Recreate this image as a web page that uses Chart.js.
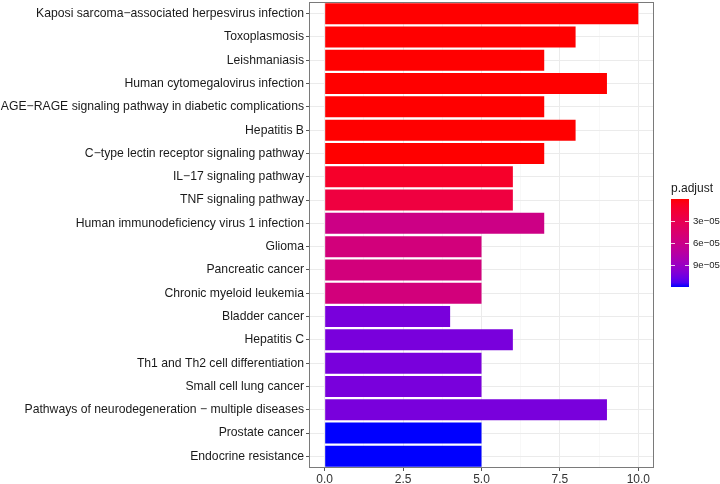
<!DOCTYPE html>
<html>
<head>
<meta charset="utf-8">
<script src="https://cdn.jsdelivr.net/npm/chart.js@4/dist/chart.umd.min.js"></script>
<style>
  html, body { margin: 0; padding: 0; background: #fff; }
  #wrap { width: 720px; height: 484px; }
</style>
</head>
<body>
<div id="wrap"><canvas id="enrichChart" width="720" height="484"></canvas></div>
<script>
// pathways, top to bottom
const pathways = [
  'Kaposi sarcoma\u2212associated herpesvirus infection',
  'Toxoplasmosis',
  'Leishmaniasis',
  'Human cytomegalovirus infection',
  'AGE\u2212RAGE signaling pathway in diabetic complications',
  'Hepatitis B',
  'C\u2212type lectin receptor signaling pathway',
  'IL\u221217 signaling pathway',
  'TNF signaling pathway',
  'Human immunodeficiency virus 1 infection',
  'Glioma',
  'Pancreatic cancer',
  'Chronic myeloid leukemia',
  'Bladder cancer',
  'Hepatitis C',
  'Th1 and Th2 cell differentiation',
  'Small cell lung cancer',
  'Pathways of neurodegeneration \u2212 multiple diseases',
  'Prostate cancer',
  'Endocrine resistance'
];
const geneCounts = [10, 8, 7, 9, 7, 8, 7, 6, 6, 7, 5, 5, 5, 4, 6, 5, 5, 9, 5, 5];
const pAdjust = [
  1e-7, 1e-7, 1e-7, 1e-7, 1e-7, 1e-7, 1e-7,
  1.2e-5, 2.2e-5, 5.8e-5,
  5.3e-5, 5.3e-5, 5.3e-5,
  1.03e-4, 1.03e-4, 1.03e-4, 1.03e-4, 1.03e-4,
  1.2e-4, 1.2e-4
];
const xTicks = [0, 2.5, 5, 7.5, 10];
const xMinorTicks = [1.25, 3.75, 6.25, 8.75];
const legendTicks = [3e-5, 6e-5, 9e-5];
const legendLabels = ['3e\u221205', '6e\u221205', '9e\u221205'];

const pMin = Math.min(...pAdjust);
const pMax = Math.max(...pAdjust);

// red -> blue, interpolated in Lab like ggplot's gradient
function toLab(r, g, b) {
  const lin = c => { c /= 255; return c <= 0.04045 ? c / 12.92 : Math.pow((c + 0.055) / 1.055, 2.4); };
  const R = lin(r), G = lin(g), B = lin(b);
  const X = (0.4124 * R + 0.3576 * G + 0.1805 * B) / 0.95047;
  const Y = 0.2126 * R + 0.7152 * G + 0.0722 * B;
  const Z = (0.0193 * R + 0.1192 * G + 0.9505 * B) / 1.08883;
  const f = t => t > 0.008856 ? Math.cbrt(t) : 7.787 * t + 16 / 116;
  return [116 * f(Y) - 16, 500 * (f(X) - f(Y)), 200 * (f(Y) - f(Z))];
}
function fromLab(L, a, bb) {
  const fy = (L + 16) / 116, fx = fy + a / 500, fz = fy - bb / 200;
  const inv = t => t * t * t > 0.008856 ? t * t * t : (t - 16 / 116) / 7.787;
  const X = inv(fx) * 0.95047, Y = inv(fy), Z = inv(fz) * 1.08883;
  let R = 3.2406 * X - 1.5372 * Y - 0.4986 * Z;
  let G = -0.9689 * X + 1.8758 * Y + 0.0415 * Z;
  let B = 0.0557 * X - 0.2040 * Y + 1.0570 * Z;
  const g = c => {
    c = Math.max(0, Math.min(1, c));
    c = c <= 0.0031308 ? 12.92 * c : 1.055 * Math.pow(c, 1 / 2.4) - 0.055;
    return Math.round(c * 255);
  };
  return `rgb(${g(R)},${g(G)},${g(B)})`;
}
const labLow = toLab(255, 0, 0);
const labHigh = toLab(0, 0, 255);
function colorAt(t) {
  return fromLab(
    labLow[0] + (labHigh[0] - labLow[0]) * t,
    labLow[1] + (labHigh[1] - labLow[1]) * t,
    labLow[2] + (labHigh[2] - labLow[2]) * t
  );
}
function pColor(p) {
  return colorAt((p - pMin) / (pMax - pMin));
}

const barColors = pAdjust.map(pColor);

// panel border + colourbar legend
const panelAndLegend = {
  id: 'panelAndLegend',
  afterDraw(chart) {
    const ctx = chart.ctx;
    const a = chart.chartArea;
    ctx.save();
    ctx.strokeStyle = '#7a7a7a';
    ctx.lineWidth = 1;
    ctx.strokeRect(a.left + 0.5, a.top + 0.5, a.right - a.left - 1, a.bottom - a.top - 1);

    const bx = 671, by = 199, bw = 18, bh = 88;
    const grad = ctx.createLinearGradient(0, by, 0, by + bh);
    for (let i = 0; i <= 20; i++) grad.addColorStop(i / 20, colorAt(i / 20));
    ctx.fillStyle = grad;
    ctx.fillRect(bx, by, bw, bh);

    ctx.font = '12px "Liberation Sans", Arial, sans-serif';
    ctx.fillStyle = '#1a1a1a';
    ctx.textAlign = 'left';
    ctx.textBaseline = 'alphabetic';
    ctx.fillText('p.adjust', bx, 192);

    ctx.font = '9.6px "Liberation Sans", Arial, sans-serif';
    ctx.textBaseline = 'middle';
    legendTicks.forEach((v, i) => {
      const y = Math.round(by + (v - pMin) / (pMax - pMin) * bh) + 0.5;
      ctx.strokeStyle = 'rgba(255,255,255,0.8)';
      ctx.beginPath();
      ctx.moveTo(bx, y); ctx.lineTo(bx + 4, y);
      ctx.moveTo(bx + bw - 4, y); ctx.lineTo(bx + bw, y);
      ctx.stroke();
      ctx.fillStyle = '#222';
      ctx.fillText(legendLabels[i], bx + bw + 4, y);
    });
    ctx.restore();
  }
};

const ctx = document.getElementById('enrichChart').getContext('2d');
new Chart(ctx, {
  type: 'bar',
  data: {
    labels: pathways,
    datasets: [{
      data: geneCounts,
      backgroundColor: barColors,
      borderWidth: 0,
      barPercentage: 0.9,
      categoryPercentage: 1
    }]
  },
  options: {
    indexAxis: 'y',
    responsive: false,
    animation: false,
    layout: { padding: { top: 2, right: 66, left: 0, bottom: 0 } },
    plugins: {
      legend: { display: false },
      tooltip: { enabled: false }
    },
    scales: {
      x: {
        type: 'linear',
        min: -0.5,
        max: 10.5,
        afterBuildTicks: scale => {
          scale.ticks = xTicks.concat(xMinorTicks).sort((a, b) => a - b).map(v => ({ value: v }));
        },
        afterFit: scale => { scale.height = 16; scale.paddingLeft = 0; scale.paddingRight = 0; },
        ticks: {
          color: '#333',
          font: { family: '"Liberation Sans", Arial, sans-serif', size: 12 },
          padding: 1,
          maxRotation: 0,
          callback: v => xTicks.includes(v) ? (v % 1 === 0 ? v.toFixed(1) : String(v)) : ''
        },
        grid: {
          color: c => xTicks.includes(c.tick && c.tick.value) ? '#ebebeb' : '#f4f4f4',
          lineWidth: c => xTicks.includes(c.tick && c.tick.value) ? 1 : 0.6,
          tickColor: c => xTicks.includes(c.tick && c.tick.value) ? '#555' : 'rgba(0,0,0,0)',
          tickLength: 3,
          tickWidth: 1
        },
        border: { display: false }
      },
      y: {
        type: 'category',
        offset: true,
        afterFit: scale => { scale.width = 309; scale.paddingTop = 0; scale.paddingBottom = 0; },
        ticks: {
          autoSkip: false,
          color: '#1a1a1a',
          font: { family: '"Liberation Sans", Arial, sans-serif', size: 12.2 },
          padding: 2
        },
        grid: {
          offset: false,
          color: '#ebebeb',
          tickColor: '#555',
          tickLength: 3,
          tickWidth: 1
        },
        border: { display: false }
      }
    }
  },
  plugins: [panelAndLegend]
});
</script>
</body>
</html>
